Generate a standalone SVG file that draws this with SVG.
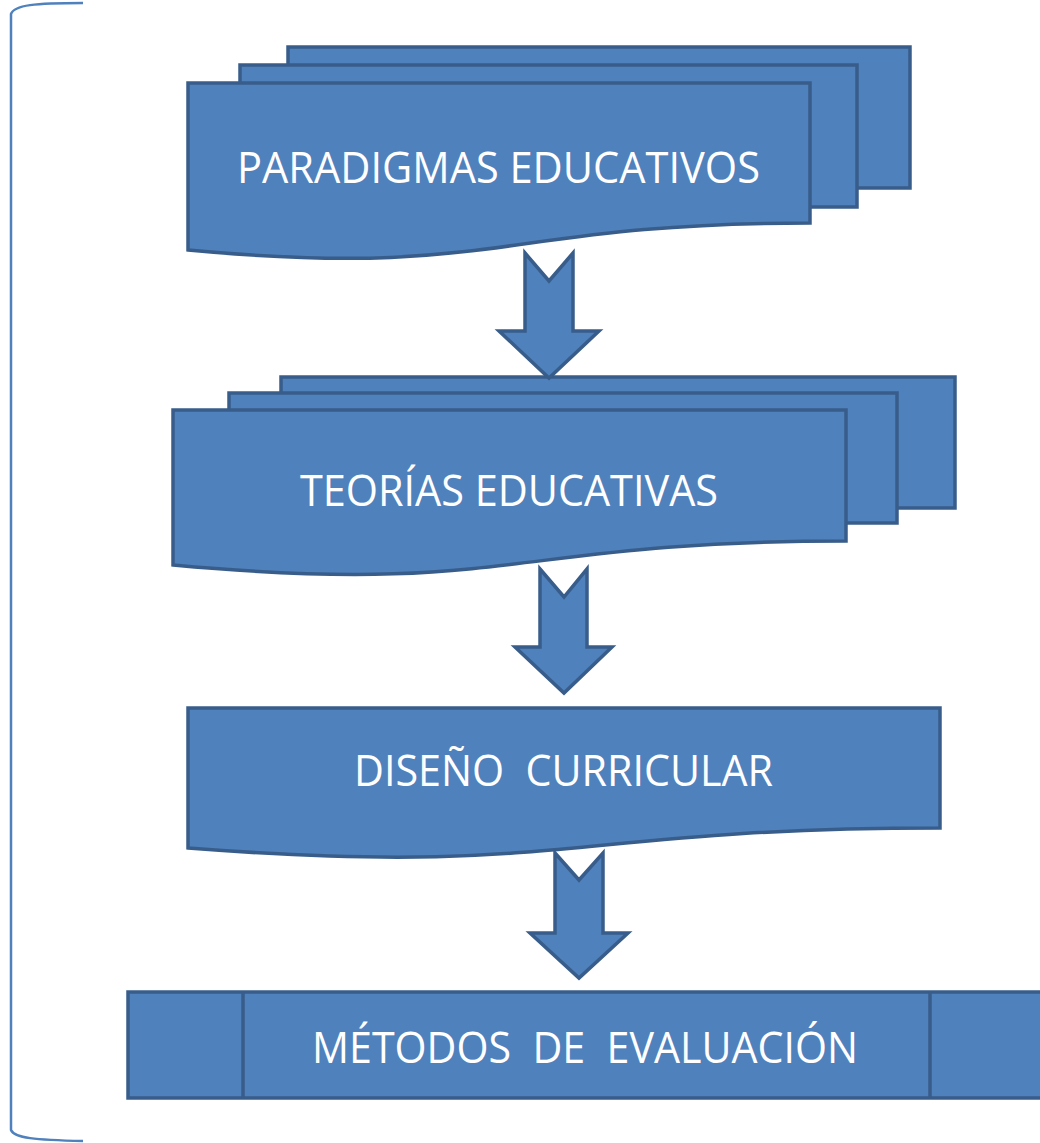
<svg xmlns="http://www.w3.org/2000/svg" width="1040" height="1143" viewBox="0 0 1040 1143">
<style>
.shape{fill:#4f81bd;stroke:#385d8a;stroke-width:3.5;stroke-linejoin:miter}
.lbl{fill:#ffffff;font-family:"Open Sans","Liberation Sans",sans-serif;font-size:43px}
.brace{fill:none;stroke:#4f81bd;stroke-width:2.5}
</style>
<rect width="1040" height="1143" fill="#ffffff"/>
<path class="brace" d="M83,3 C35,3 14,5 11,14 V1130 C14,1138 35,1140 83,1141"/>
<g id="paradigmas">
<rect class="shape" x="288" y="47" width="622" height="141"/>
<rect class="shape" x="240" y="65" width="617" height="142"/>
<path class="shape" d="M188,83 H810 V223 C499,223 499,279 188,250 Z"/>
<text class="lbl" x="237" y="183" textLength="523" lengthAdjust="spacingAndGlyphs">PARADIGMAS EDUCATIVOS</text>
</g>
<g id="teorias">
<rect class="shape" x="281" y="377" width="674" height="131"/>
<rect class="shape" x="229" y="393" width="668" height="130"/>
<path class="shape" d="M173,410 H846 V541 C509,541 509,596 173,565 Z"/>
<text class="lbl" x="300" y="506" textLength="418" lengthAdjust="spacingAndGlyphs">TEORÍAS EDUCATIVAS</text>
</g>
<g id="diseno">
<path class="shape" d="M188,708 H940 V828 C564,828 564,877 188,848 Z"/>
<text class="lbl" x="354" y="786" textLength="419" lengthAdjust="spacingAndGlyphs" xml:space="preserve">DISEÑO  CURRICULAR</text>
</g>
<g id="metodos">
<rect class="shape" x="128" y="992" width="925" height="106"/>
<line class="shape" x1="243" y1="992" x2="243" y2="1098"/>
<line class="shape" x1="930" y1="992" x2="930" y2="1098"/>
<text class="lbl" x="312" y="1063" textLength="546" lengthAdjust="spacingAndGlyphs" xml:space="preserve">MÉTODOS  DE  EVALUACIÓN</text>
</g>
<g id="connectors">
<path class="shape" d="M525,253 L549,281 L573,253 V331 H599 L549,378 L499,331 H525 Z"/>
<path class="shape" d="M540,569 L564,597 L587,569 V647 H612 L564,693 L515,647 H540 Z"/>
<path class="shape" d="M555,853 L579,880 L603,853 V933 H628 L579,978 L530,933 H555 Z"/>
</g>
</svg>
